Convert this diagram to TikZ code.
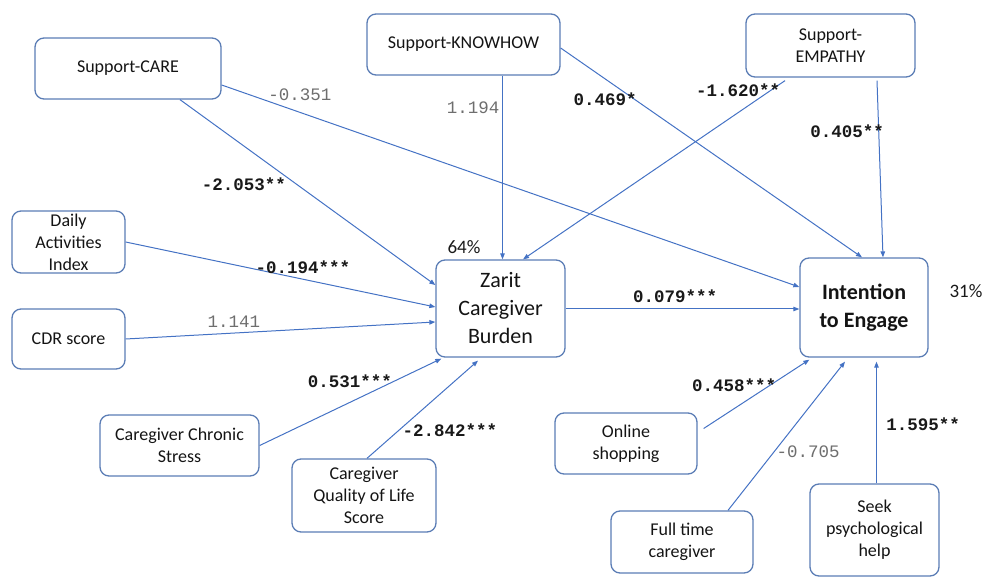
\documentclass[tikz,border=0pt]{standalone}
\usepackage{fontspec}
\setmainfont{Carlito}
\setmonofont{Liberation Mono}
\usetikzlibrary{arrows.meta}
\definecolor{linecol}{HTML}{4472C4}
\definecolor{boxcol}{HTML}{5B7DB5}
\definecolor{greylab}{HTML}{6E6E6E}
\tikzset{
  box/.style={draw=boxcol, line width=1.3pt, rounded corners=9pt, inner sep=0pt,
    align=center, text=black!92, font=\fontsize{18}{22}\selectfont},
  bigbox/.style={box, font=\fontsize{22}{28}\selectfont},
  conn/.style={draw=linecol, line width=1pt, -{Triangle[length=6pt,width=4.5pt]}},
  sig/.style={font=\ttfamily\bfseries\fontsize{17.5}{20}\selectfont, text=black!90, inner sep=0pt},
  nsig/.style={font=\ttfamily\fontsize{17.5}{20}\selectfont, text=greylab, inner sep=0pt},
  pct/.style={font=\fontsize{19}{22}\selectfont, text=black!90, inner sep=0pt}
}
\begin{document}
\begin{tikzpicture}[x=1pt,y=-1pt]
\useasboundingbox (0,0) rectangle (985,577);
% boxes
\node[box, minimum width=186pt, minimum height=61pt] (care) at (128,68.5) {Support-CARE};
\node[box, minimum width=193pt, minimum height=61pt] (know) at (463.5,44.5) {Support-KNOWHOW};
\node[box, minimum width=169pt, minimum height=63pt] (emp) at (830.5,45.5) {Support-\\EMPATHY};
\node[box, minimum width=113pt, minimum height=62pt] (daily) at (68.5,242) {Daily\\Activities\\Index};
\node[box, minimum width=113pt, minimum height=60pt] (cdr) at (68.5,339) {CDR score};
\node[box, minimum width=159pt, minimum height=61pt] (chron) at (179.5,445.5) {Caregiver Chronic\\Stress};
\node[box, minimum width=144pt, minimum height=73pt] (qol) at (364,495.5) {Caregiver\\Quality of Life\\Score};
\node[bigbox, minimum width=129pt, minimum height=97pt] (zarit) at (500.5,308.5) {Zarit\\Caregiver\\Burden};
\node[bigbox, minimum width=128pt, minimum height=99pt, font=\bfseries\fontsize{22}{28}\selectfont] (intent) at (864,307.5) {Intention\\to Engage};
\node[box, minimum width=142pt, minimum height=61pt] (online) at (626,443.5) {Online\\shopping};
\node[box, minimum width=142pt, minimum height=62pt] (full) at (682,542) {Full time\\caregiver};
\node[box, minimum width=129pt, minimum height=92pt] (seek) at (874.5,530) {Seek\\psychological\\help};
% percentages
\node[pct] (p64) at (464,247) {64\%};
\node[pct] (p31) at (966,291) {31\%};
% connectors
\draw[conn] ([xshift=52pt]care.south) -- ([yshift=23.5pt]zarit.west);
\draw[conn] ([yshift=-16.5pt]care.east) -- ([yshift=20.5pt]intent.west);
\draw[conn] ([xshift=39pt]know.south) -- ([xshift=2pt]zarit.north);
\draw[conn] ([yshift=-3.5pt]know.east) -- ([xshift=-2pt]intent.north);
\draw[conn] ([xshift=-45.5pt,yshift=-3pt]emp.south) -- ([xshift=22.5pt]zarit.north);
\draw[conn] ([xshift=46.5pt,yshift=-3pt]emp.south) -- ([xshift=19pt]intent.north);
\draw[conn] (daily.east) -- ([yshift=1.5pt]zarit.west);
\draw[conn] (cdr.east) -- ([yshift=-13.5pt]zarit.west);
\draw[conn] (chron.east) -- ([xshift=6pt,yshift=-1pt]zarit.south west);
\draw[conn] ([xshift=3pt]qol.north) -- ([xshift=-22.5pt,yshift=-3pt]zarit.south);
\draw[conn] ([yshift=-0.5pt]zarit.east) -- ([yshift=-0.5pt]zarit.east -| intent.west);
\draw[conn] ([xshift=6pt,yshift=15pt]online.east) -- ([xshift=10pt,yshift=-2pt]intent.south west);
\draw[conn] ([xshift=46pt]full.north) -- ([xshift=-19pt,yshift=-4pt]intent.south);
\draw[conn] ([xshift=2pt]seek.north) -- ([xshift=12.5pt,yshift=-4pt]intent.south);
% labels
\node[nsig] (l1) at (300,95) {-0.351};
\node[nsig] (l2) at (473,108) {1.194};
\node[sig] (l3) at (244,184) {-2.053**};
\node[sig] (l4) at (605,99) {0.469*};
\node[sig] (l5) at (738,90) {-1.620**};
\node[sig] (l6) at (847,131) {0.405**};
\node[sig] (l7) at (303,267) {-0.194***};
\node[nsig] (l8) at (234,322) {1.141};
\node[sig] (l9) at (350,381) {0.531***};
\node[sig] (l10) at (450,430) {-2.842***};
\node[sig] (l11) at (675,296) {0.079***};
\node[sig] (l12) at (734,385) {0.458***};
\node[nsig] (l13) at (808,452) {-0.705};
\node[sig] (l14) at (923,424) {1.595**};
\end{tikzpicture}
\end{document}
